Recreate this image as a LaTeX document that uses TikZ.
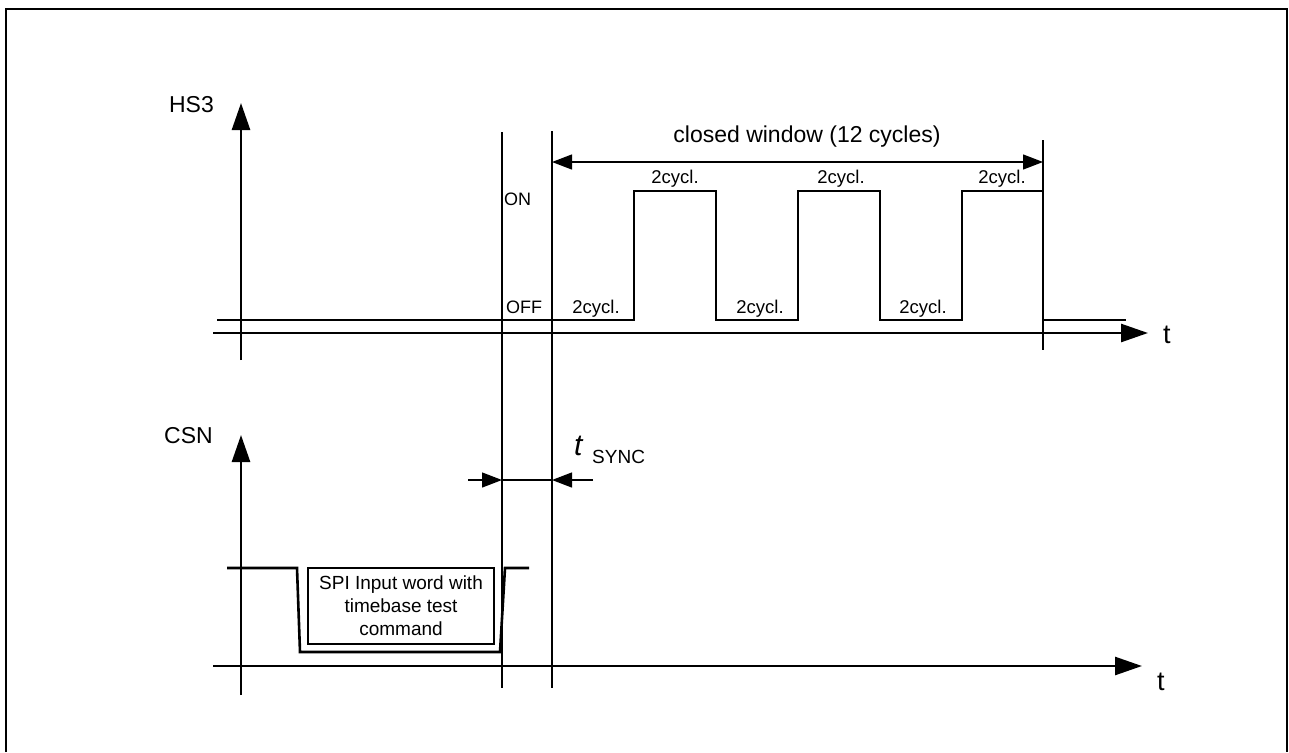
\documentclass[tikz,border=0pt]{standalone}
\usepackage{fontspec}
\setmainfont{Liberation Sans}
\usetikzlibrary{arrows.meta}
\begin{document}
\begin{tikzpicture}[x=1pt,y=-1pt,
    axis/.style={line width=2.6pt,-{Triangle[length=27pt,width=18pt]}},
    sig/.style={line width=2.6pt},
    marker/.style={line width=1.3pt},
    dimarrow/.style={line width=1.3pt,-{Triangle[length=20pt,width=15pt]}},
    siglabel/.style={font=\fontsize{23}{25}\selectfont,anchor=base east,inner sep=0pt},
    tlabel/.style={font=\fontsize{27}{29}\selectfont,anchor=base west,inner sep=0pt},
    cyc/.style={font=\fontsize{18.5}{20}\selectfont,anchor=base,inner sep=0pt},
    lvl/.style={font=\fontsize{18}{20}\selectfont,anchor=base west,inner sep=0pt},
    spibox/.style={draw,line width=1.3pt,inner sep=0pt,minimum width=186pt,minimum height=76pt,
        align=center,font=\fontsize{19}{23}\selectfont}]
\useasboundingbox (0,0) rectangle (1289,752);
\draw[line width=2pt] (6,752) -- (6,9) -- (1287,9) -- (1287,752);

% HS3
\node[siglabel] (hs3) at (214,112) {HS3};
\draw[axis] (241,360) -- (241,103);
\draw[axis] (213,333) -- (1148,333);
\node[tlabel] (t1) at (1163,343) {t};
\draw[sig] (217,320) -- (634,320) -- (634,191) -- (716,191) -- (716,320)
    -- (798,320) -- (798,191) -- (880,191) -- (880,320)
    -- (962,320) -- (962,191) -- (1043,191) -- (1043,320) -- (1126,320);
\node[lvl] (on) at (504,205) {ON};
\node[lvl] (off) at (506,313) {OFF};
\foreach \x in {675,841,1002} \node[cyc] at (\x,183) {2cycl.};
\foreach \x in {596,760,923} \node[cyc] at (\x,313) {2cycl.};

% markers
\coordinate (m1) at (502,132);
\coordinate (m2) at (552,131);
\coordinate (m3) at (1043,140);
\draw[marker] (m1) -- (502,688);
\draw[marker] (m2) -- (552,688);
\draw[marker] (m3) -- (1043,350);
\draw[marker,{Triangle[length=20pt,width=15pt]}-{Triangle[length=20pt,width=15pt]}] (552,162) -- (1043,162);
\node[font=\fontsize{23}{25}\selectfont,anchor=base,inner sep=0pt] (win) at (807,142) {closed window (12 cycles)};

% CSN
\node[siglabel] (csn) at (213,443) {CSN};
\draw[axis] (241,695) -- (241,435);
\draw[axis] (213,666) -- (1142,666);
\node[tlabel] (t2) at (1157,690) {t};
\draw[sig] (227,568) -- (297,568) -- (300,652) -- (500,652) -- (505,568) -- (529,568);
\node[spibox] (spi) at (401,606) {SPI Input word with\\timebase test\\command};

% tSYNC
\coordinate (s1) at (468,480);
\coordinate (s2) at (593,480);
\draw[dimarrow] (s1) -- (502,480);
\draw[dimarrow] (s2) -- (552,480);
\draw[marker] (502,480) -- (552,480);
\node[font=\fontsize{30}{32}\selectfont\itshape,anchor=base west,inner sep=0pt] (tsync) at (574,455) {t};
\node[font=\fontsize{19}{21}\selectfont,anchor=base west,inner sep=0pt] (sync) at (592,463) {SYNC};
\end{tikzpicture}
\end{document}
